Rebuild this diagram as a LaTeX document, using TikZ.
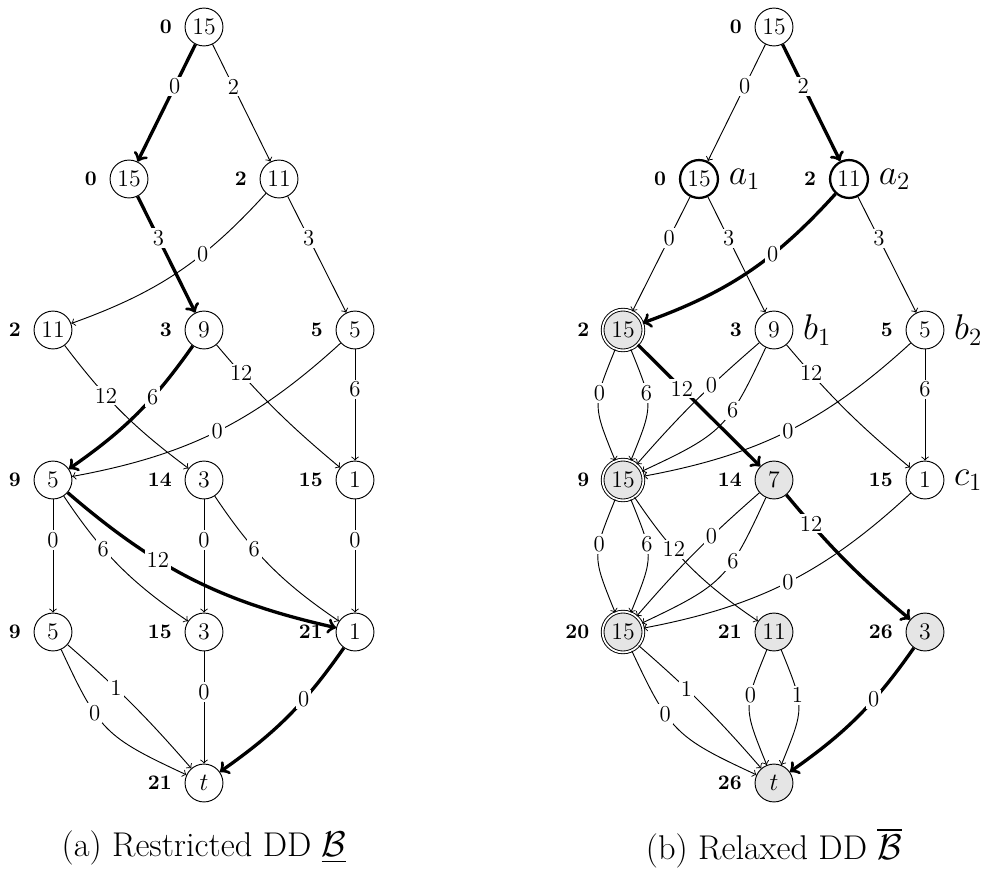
\documentclass[tikz,border=0pt]{standalone}
\usepackage{amsmath}
\begin{document}
\begin{tikzpicture}[x=0.483pt,y=-0.483pt,
  nd/.style={circle,draw,line width=0.45pt,minimum size=18.3pt,inner sep=0pt,font=\fontsize{11.5}{13}\selectfont},
  gnd/.style={nd,fill=gray!20},
  dnd/.style={nd,fill=gray!20,double,double distance=0.85pt,minimum size=19.7pt},
  tnd/.style={nd,line width=1.1pt},
  ed/.style={->,line width=0.45pt},
  hv/.style={->,line width=1.6pt},
  lb/.style={fill=white,inner sep=1pt,pos=0.36,font=\fontsize{11}{13}\selectfont},
  every label/.style={font=\fontsize{10}{12}\selectfont\bfseries},
  label distance=2.7pt,
  side/.style={anchor=west,inner sep=0pt,font=\fontsize{16.5}{19}\selectfont},
  capt/.style={font=\fontsize{16.6}{20}\selectfont},
  ]
\useasboundingbox (0,0) rectangle (984,869);
% ---------- (a) restricted ----------
\node[nd,label=left:0] (r) at (204,27) {15};
\node[nd,label=left:0] (A) at (129,179) {15};
\node[nd,label=left:2] (B) at (279,179) {11};
\node[nd,label=left:2] (C) at (53,330) {11};
\node[nd,label=left:3] (D) at (204,330) {9};
\node[nd,label=left:5] (E) at (355,330) {5};
\node[nd,label=left:9] (F) at (53,480) {5};
\node[nd,label=left:14] (G) at (204,480) {3};
\node[nd,label=left:15] (H) at (355,480) {1};
\node[nd,label=left:9] (I) at (53,632) {5};
\node[nd,label=left:15] (J) at (204,632) {3};
\node[nd,label=left:21] (K) at (355,632) {1};
\node[nd,label=left:21] (T) at (204,783) {$t$};

\draw[hv] (r) -- node[lb]{0} (A);
\draw[ed] (r) -- node[lb]{2} (B);
\draw[hv] (A) -- node[lb]{3} (D);
\draw[ed] (B) to[bend left=14] node[lb]{0} (C);
\draw[ed] (B) -- node[lb]{3} (E);
\draw[ed] (C) to[bend right=8] node[lb]{12} (G);
\draw[hv] (D) to[bend left=10] node[lb]{6} (F);
\draw[ed] (D) to[bend right=5] node[lb,pos=0.2]{12} (H);
\draw[ed] (E) to[bend left=16] node[lb,pos=0.5]{0} (F);
\draw[ed] (E) -- node[lb]{6} (H);
\draw[ed] (F) -- node[lb]{0} (I);
\draw[ed] (F) to[bend right=11] node[lb]{6} (J);
\draw[hv] (F) to[bend right=14] node[lb]{12} (K);
\draw[ed] (G) -- node[lb]{0} (J);
\draw[ed] (G) to[bend right=11] node[lb]{6} (K);
\draw[ed] (H) -- node[lb]{0} (K);
\draw[ed] (I) to[bend right=20,looseness=1.3] node[lb]{0} (T);
\draw[ed] (I) to[bend left=4] node[lb]{1} (T);
\draw[ed] (J) -- node[lb]{0} (T);
\draw[hv] (K) to[bend left=10] node[lb]{0} (T);

% ---------- (b) relaxed ----------
\node[nd,label=left:0] (r2) at (774,27) {15};
\node[tnd,label=left:0] (a1) at (699,179) {15};
\node[tnd,label=left:2] (a2) at (849,179) {11};
\node[dnd,label=left:2] (P) at (623,330) {15};
\node[nd,label=left:3] (b1) at (774,330) {9};
\node[nd,label=left:5] (b2) at (925,330) {5};
\node[dnd,label=left:9] (Q) at (623,480) {15};
\node[gnd,label=left:14] (R) at (774,480) {7};
\node[nd,label=left:15] (c1) at (925,480) {1};
\node[dnd,label=left:20] (S) at (623,632) {15};
\node[gnd,label=left:21] (U) at (774,632) {11};
\node[gnd,label=left:26] (V) at (925,632) {3};
\node[gnd,label=left:26] (T2) at (774,783) {$t$};

\node[side] (la1) at ([xshift=4.5pt]a1.east) {$a_1$};
\node[side] (la2) at ([xshift=4.5pt]a2.east) {$a_2$};
\node[side] (lb1) at ([xshift=4.5pt]b1.east) {$b_1$};
\node[side] (lb2) at ([xshift=4.5pt]b2.east) {$b_2$};
\node[side] (lc1) at ([xshift=4.5pt]c1.east) {$c_1$};

\draw[ed] (r2) -- node[lb]{0} (a1);
\draw[hv] (r2) -- node[lb]{2} (a2);
\draw[ed] (a1) -- node[lb]{0} (P);
\draw[ed] (a1) -- node[lb]{3} (b1);
\draw[hv] (a2) to[bend left=14] node[lb]{0} (P);
\draw[ed] (a2) -- node[lb]{3} (b2);
\draw[ed] (P) to[bend right=22,looseness=1.4] node[lb]{0} (Q);
\draw[ed] (P) to[bend left=22,looseness=1.4] node[lb]{6} (Q);
\draw[hv] (P) -- node[lb]{12} (R);
\draw[ed] (b1) to[bend right=4] node[lb]{0} (Q);
\draw[ed] (b1) to[bend left=20,looseness=1.3] node[lb]{6} (Q);
\draw[ed] (b1) to[bend right=5] node[lb,pos=0.2]{12} (c1);
\draw[ed] (b2) to[bend left=16] node[lb,pos=0.5]{0} (Q);
\draw[ed] (b2) -- node[lb]{6} (c1);
\draw[ed] (Q) to[bend right=22,looseness=1.4] node[lb]{0} (S);
\draw[ed] (Q) to[bend left=22,looseness=1.4] node[lb]{6} (S);
\draw[ed] (Q) to[bend right=11] node[lb]{12} (U);
\draw[ed] (R) to[bend right=4] node[lb]{0} (S);
\draw[ed] (R) to[bend left=20,looseness=1.3] node[lb]{6} (S);
\draw[hv] (R) to[bend right=5] node[lb,pos=0.2]{12} (V);
\draw[ed] (c1) to[bend left=16] node[lb,pos=0.5]{0} (S);
\draw[ed] (S) to[bend right=20,looseness=1.3] node[lb]{0} (T2);
\draw[ed] (S) to[bend left=4] node[lb]{1} (T2);
\draw[ed] (U) to[bend right=22,looseness=1.4] node[lb]{0} (T2);
\draw[ed] (U) to[bend left=22,looseness=1.4] node[lb]{1} (T2);
\draw[hv] (V) to[bend left=10] node[lb]{0} (T2);

% ---------- captions ----------
\node[capt] (ca) at (204,848) {(a) Restricted DD $\underline{\mathcal{B}}$};
\node[capt] (cb) at (774,848) {(b) Relaxed DD $\overline{\mathcal{B}}$};
\end{tikzpicture}
\end{document}
